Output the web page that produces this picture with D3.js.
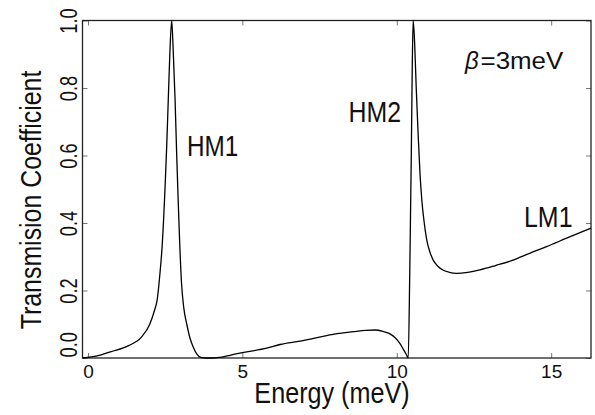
<!DOCTYPE html>
<html>
<head>
<meta charset="utf-8">
<script src="https://cdn.jsdelivr.net/npm/d3@7"></script>
<style>
  html, body { margin: 0; padding: 0; background: #fff; }
  svg { display: block; }
  text { font-family: "Liberation Sans", Arial, Helvetica, sans-serif; fill: #111; }
</style>
</head>
<body>
<svg id="chart" width="595" height="415"></svg>
<script>
// Transmission coefficient vs. energy (meV)
const energy = [
  -0.17, 0.30, 0.75, 1.30, 1.73, 2.00, 2.15, 2.24, 2.32, 2.40, 2.50, 2.55, 2.60, 2.65, 2.71,
  2.76, 2.82, 2.87, 2.92, 2.97, 3.03, 3.10, 3.20, 3.30, 3.40, 3.52, 3.67, 3.80, 4.05, 4.27,
  4.60, 5.00, 5.79, 6.22, 6.87, 7.94, 8.60, 9.00, 9.30, 9.55, 9.75, 9.94, 10.10, 10.20, 10.30,
  10.37, 10.42, 10.47, 10.50, 10.53, 10.58, 10.63, 10.69, 10.75, 10.81, 10.89, 10.97, 11.07, 11.18,
  11.33, 11.51, 11.70, 11.94, 12.30, 12.69, 13.20, 13.77, 14.30, 14.85, 15.50, 16.29
];
const transmission = [
  0.000, 0.006, 0.019, 0.036, 0.062, 0.100, 0.140, 0.172, 0.240, 0.330, 0.515, 0.630, 0.766, 0.900, 1.000,
  0.910, 0.766, 0.610, 0.469, 0.340, 0.220, 0.150, 0.100, 0.060, 0.034, 0.012, 0.001, 0.000, 0.000, 0.002,
  0.008, 0.016, 0.029, 0.040, 0.050, 0.070, 0.078, 0.082, 0.083, 0.079, 0.073, 0.061, 0.043, 0.028, 0.012,
  0.000, 0.250, 0.600, 0.850, 1.000, 0.930, 0.800, 0.667, 0.550, 0.469, 0.400, 0.350, 0.315, 0.290,
  0.272, 0.260, 0.254, 0.251, 0.254, 0.261, 0.274, 0.290, 0.310, 0.330, 0.355, 0.385
];
const xTicks = [0, 5, 10, 15];
const yTicks = [0, 0.2, 0.4, 0.6, 0.8, 1.0];
const xTitle = "Energy (meV)";
const yTitle = "Transmision Coefficient";
const peakLabels = [
  { text: "HM1", x: 187, y: 156, size: 30, sx: 0.81 },
  { text: "HM2", x: 348.5, y: 121.5, size: 30, sx: 0.83 },
  { text: "LM1", x: 524, y: 226.5, size: 29, sx: 0.86 }
];

const svg = d3.select("#chart");
const plotLeft = 82.5, plotRight = 591, plotTop = 20.5, plotBottom = 358;

const x = d3.scaleLinear().domain([-0.178, 16.29]).range([plotLeft, plotRight]);
const y = d3.scaleLinear().domain([0, 1]).range([plotBottom, plotTop]);

// axes with short inward ticks on all four sides
const gx = svg.append("g").attr("transform", `translate(0,${plotBottom})`)
  .call(d3.axisBottom(x).tickValues(xTicks).tickSizeInner(-5).tickSizeOuter(0).tickPadding(7).tickFormat(d3.format("d")));
const gxTop = svg.append("g").attr("transform", `translate(0,${plotTop})`)
  .call(d3.axisTop(x).tickValues(xTicks).tickSizeInner(-5).tickSizeOuter(0).tickFormat(""));
const gy = svg.append("g").attr("transform", `translate(${plotLeft},0)`)
  .call(d3.axisLeft(y).tickValues(yTicks).tickSizeInner(-5).tickSizeOuter(0).tickFormat(d3.format(".1f")));
const gyRight = svg.append("g").attr("transform", `translate(${plotRight},0)`)
  .call(d3.axisRight(y).tickValues(yTicks).tickSizeInner(-5).tickSizeOuter(0).tickFormat(""));

[gx, gxTop, gy, gyRight].forEach(g => {
  g.select(".domain").remove();
  g.selectAll(".tick line").attr("stroke", "#777").attr("stroke-width", 1);
});

gx.selectAll(".tick text")
  .attr("font-size", 19)
  .attr("font-family", "Liberation Sans, Arial, sans-serif")
  .attr("fill", "#111");

// vertical tick labels on the y axis
gy.selectAll(".tick text")
  .attr("x", null).attr("dy", null)
  .attr("font-size", 24)
  .attr("font-family", "Liberation Sans, Arial, sans-serif")
  .attr("fill", "#111")
  .attr("text-anchor", d => d === 0 ? "start" : "middle")
  .attr("transform", d => d === 0
    ? "translate(-5.5,-1) rotate(-90) scale(0.76,1)"
    : "translate(-5.5,0) rotate(-90) scale(0.76,1)");

// plot frame
svg.append("rect")
  .attr("x", plotLeft).attr("y", plotTop)
  .attr("width", plotRight - plotLeft).attr("height", plotBottom - plotTop)
  .attr("fill", "none").attr("stroke", "#222").attr("stroke-width", 1.3);

// transmission curve
const points = energy.map((e, i) => [e, transmission[i]]);
const line = d3.line().x(d => x(d[0])).y(d => y(d[1])).curve(d3.curveMonotoneX);
svg.append("path")
  .datum(points)
  .attr("d", line)
  .attr("fill", "none")
  .attr("stroke", "#000")
  .attr("stroke-width", 1.3)
  .attr("stroke-linejoin", "round");

// axis titles
svg.append("text")
  .attr("transform", "translate(332,403) scale(0.84,1)")
  .attr("text-anchor", "middle")
  .attr("font-size", 30)
  .text(xTitle);

svg.append("text")
  .attr("transform", "translate(41,200) rotate(-90) scale(0.83,1)")
  .attr("text-anchor", "middle")
  .attr("font-size", 30)
  .text(yTitle);

// resonance labels
peakLabels.forEach(p => {
  svg.append("text")
    .attr("transform", `translate(${p.x},${p.y}) scale(${p.sx},1)`)
    .attr("font-size", p.size)
    .text(p.text);
});

// parameter annotation
svg.append("text")
  .attr("transform", "translate(465,68.5)")
  .attr("font-family", "Liberation Serif, Times New Roman, serif")
  .attr("font-style", "italic")
  .attr("font-size", 24)
  .text("β");
svg.append("text")
  .attr("transform", "translate(480.5,68.5) scale(1.08,1)")
  .attr("font-size", 24)
  .text("=3meV");
</script>
</body>
</html>
